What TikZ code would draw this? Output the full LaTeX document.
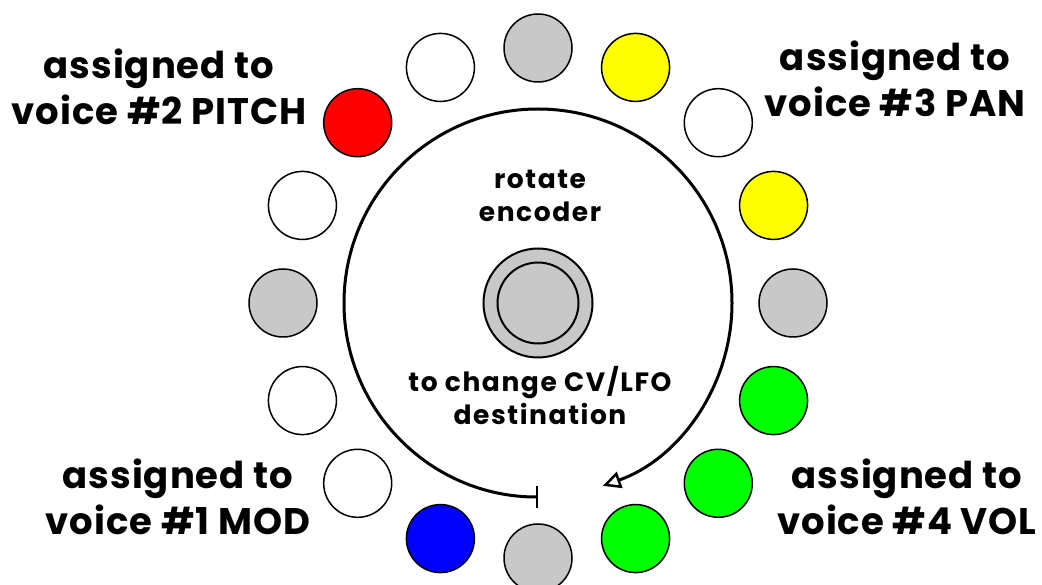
\documentclass[tikz,border=0pt]{standalone}
\usepackage{fontspec}
\setmainfont{Poppins}
\newfontfamily\biglbl{Poppins}[LetterSpace=2.5]
\newfontfamily\midlbl{Poppins}[LetterSpace=6]
\usetikzlibrary{arrows.meta,calc}
\definecolor{knobgray}{RGB}{200,200,200}
\definecolor{ledred}{RGB}{255,0,0}
\definecolor{ledyellow}{RGB}{255,255,0}
\definecolor{ledgreen}{RGB}{0,255,0}
\definecolor{ledblue}{RGB}{0,0,255}
\begin{document}
\begin{tikzpicture}[x=1pt,y=1pt,
  led/.style={circle,draw=black,line width=1.5pt,minimum size=68pt,inner sep=0pt},
  biglabel/.style={align=center,font=\biglbl\fontsize{37}{46}\selectfont\bfseries},
  midlabel/.style={align=center,font=\midlbl\fontsize{26.5}{33}\selectfont\bfseries},
  knob/.style={circle,draw=black,line width=2pt,fill=knobgray,inner sep=0pt}]
\useasboundingbox (0,0) rectangle (1042,584);
\coordinate (c) at (538,281);
% ring of LEDs
\foreach \ang/\col/\nm in {90/knobgray/l0,112.5/white/l1,135/ledred/l2,157.5/white/l3,
  180/knobgray/l4,202.5/white/l5,225/white/l6,247.5/ledblue/l7,270/knobgray/l8,
  292.5/ledgreen/l9,315/ledgreen/l10,337.5/ledgreen/l11,0/knobgray/l12,
  22.5/ledyellow/l13,45/white/l14,67.5/ledyellow/l15}
  \node[led,fill=\col] (\nm) at ($(c)+(\ang:255)$) {};
% encoder
\node[knob,minimum size=109pt] (knobout) at (c) {};
\node[knob,minimum size=81pt] (knobin) at (c) {};
% rotation arc
\coordinate (arcstart) at ($(c)+(270:194)$);
\draw[line width=3pt,{Bar[width=22pt,line width=2.5pt]}-{Triangle[open,length=18pt,width=17pt,line width=2.5pt]}]
  (arcstart) arc[start angle=270,end angle=-70.5,radius=194];
% labels
\node[midlabel] (toptext) at (540,388) {rotate\\encoder};
\node[midlabel] (bottext) at (540,188) {to change CV/LFO\\destination};
\node[biglabel] (tl) at (159,497) {assigned to\\voice \#2 PITCH};
\node[biglabel] (tr) at (895,505) {assigned to\\voice \#3 PAN};
\node[biglabel] (bl) at (178,87) {assigned to\\voice \#1 MOD};
\node[biglabel] (br) at (907,87) {assigned to\\voice \#4 VOL};
\end{tikzpicture}
\end{document}
